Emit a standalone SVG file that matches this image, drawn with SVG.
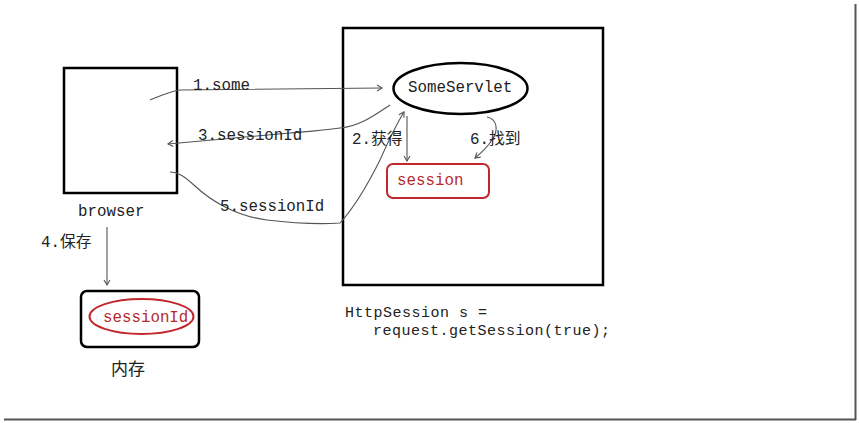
<svg xmlns="http://www.w3.org/2000/svg" width="859" height="423" viewBox="0 0 859 423">
<defs>
<style>
.box{fill:#fff;stroke:#000;stroke-width:2.5}
.red{fill:none;stroke:#c0282d;stroke-width:2}
.t{font-family:"Liberation Mono","Noto Sans CJK SC",monospace;font-size:15.8px;fill:#222}
.code{font-family:"Liberation Mono",monospace;font-size:15px;letter-spacing:0.5px;fill:#222}
.cn{font-family:"Noto Sans CJK SC","Liberation Sans",sans-serif;font-size:17px;fill:#222}
.rt{font-family:"Liberation Mono",monospace;font-size:15.8px;fill:#b52a2a}
.c{fill:none;stroke:#555;stroke-width:1.1}
</style>
<marker id="ah" markerWidth="8" markerHeight="8" refX="6" refY="4" orient="auto" markerUnits="userSpaceOnUse">
<path d="M1,1 L6,4 L1,7" fill="none" stroke="#555" stroke-width="1.1"/>
</marker>
</defs>
<rect width="859" height="423" fill="#fff"/>
<g id="frame">
<line x1="4" y1="419.5" x2="856" y2="419.5" stroke="#555" stroke-width="2"/>
<line x1="855.5" y1="4" x2="855.5" y2="420" stroke="#555" stroke-width="2"/>
</g>
<g id="browser">
<rect class="box" x="64" y="68" width="113" height="125"/>
<text class="t" x="78" y="216">browser</text>
</g>
<g id="server">
<rect class="box" x="343" y="28" width="260" height="257"/>
</g>
<g id="someservlet">
<ellipse cx="460.5" cy="88.5" rx="67" ry="25.5" fill="#fff" stroke="#000" stroke-width="2.5"/>
<text class="t" x="408" y="92">SomeServlet</text>
</g>
<g id="session">
<rect class="red" x="387" y="164" width="102" height="34" rx="6"/>
<text class="rt" x="397" y="185">session</text>
</g>
<g id="memory">
<rect class="box" x="81" y="291" width="118" height="56" rx="6"/>
<ellipse class="red" cx="141.5" cy="316.5" rx="52" ry="17.5"/>
<text class="rt" x="103" y="322">sessionId</text>
<text class="cn" x="111" y="375">内存</text>
</g>
<g id="code">
<text class="code" x="345" y="317">HttpSession s =</text>
<text class="code" x="373" y="335">request.getSession(true);</text>
</g>
<g id="connectors">
<path class="c" marker-end="url(#ah)" d="M150,100 C160,96 168,92 180,90 L382,88"/>
<path class="c" marker-end="url(#ah)" d="M390,105 C375,115 360,126 340,128 C320,131 300,132 290,133 L168,144"/>
<path class="c" marker-end="url(#ah)" d="M407,116 L407,161"/>
<path class="c" marker-end="url(#ah)" d="M487,117 C497,119 499,130 492,140 C487,148 481,153 475,158"/>
<path class="c" marker-end="url(#ah)" d="M170,172 C178,172 184,176 195,186 C210,200 235,216 267,220 C300,224 325,224 340,223 C352,210 365,190 380,160 C388,142 396,125 404,112"/>
<path class="c" marker-end="url(#ah)" d="M107,227 L107,285"/>
</g>
<g id="labels">
<text class="t" x="193" y="90">1.some</text>
<text class="t" x="198" y="140">3.sessionId</text>
<text class="t" x="352" y="144">2.获得</text>
<text class="t" x="470" y="144">6.找到</text>
<text class="t" x="220" y="211">5.sessionId</text>
<text class="t" x="41" y="247">4.保存</text>
</g>
</svg>
